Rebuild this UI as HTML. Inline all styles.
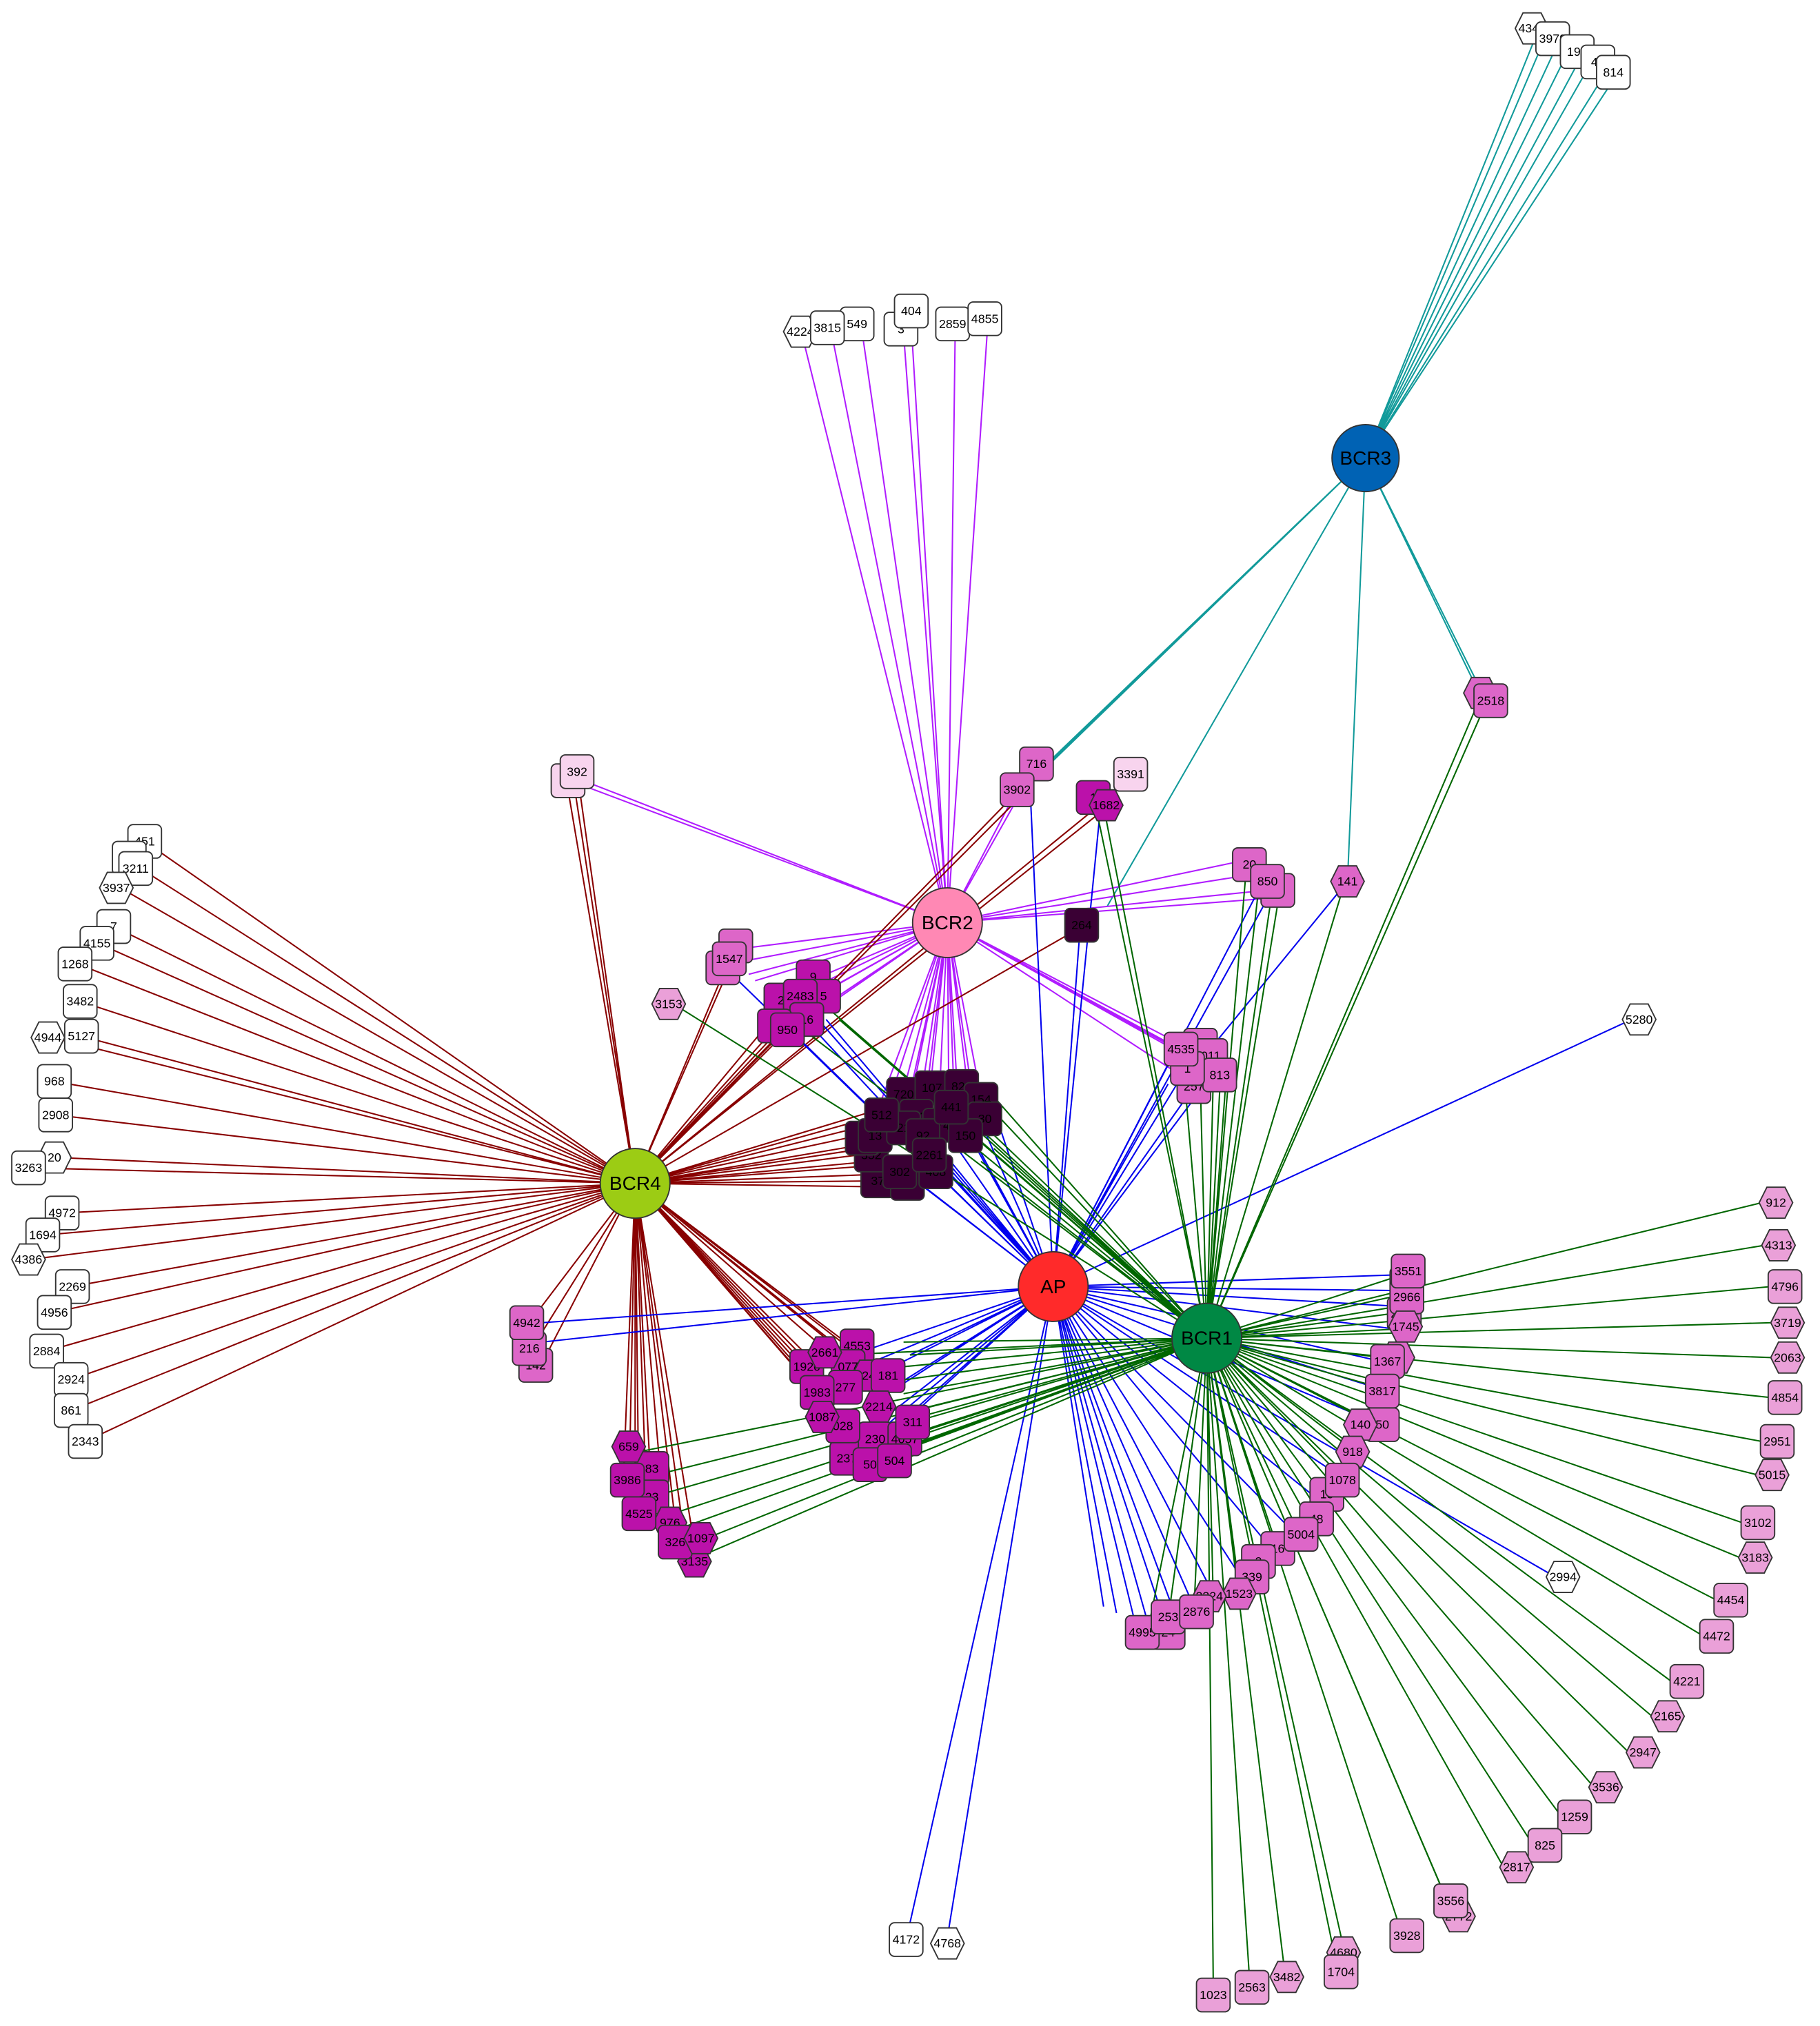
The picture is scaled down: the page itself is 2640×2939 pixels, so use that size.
<!DOCTYPE html>
<html><head><meta charset="utf-8"><style>
html,body{margin:0;padding:0;background:#fff}
svg{display:block}
text{font-family:"Liberation Sans",sans-serif;font-size:9.5px;text-anchor:middle;dominant-baseline:central;fill:#000}
.n use,.n polygon{stroke:#333;stroke-width:1}
.w use,.w polygon{fill:#fff}
.l use,.l polygon{fill:#eaa0d8}
.m use,.m polygon{fill:#dd66c8}
.g use,.g polygon{fill:#bb11aa}
.d use,.d polygon{fill:#3a0034}
.v use,.v polygon{fill:#f8d4ee}
.hub text{font-size:15px}
path{fill:none;stroke-width:1.1}
</style></head><body>
<svg width="2640" height="2939" viewBox="0 0 1410 1570" xmlns="http://www.w3.org/2000/svg">
<defs>
<rect id="s" x="-13" y="-13" width="26" height="26" rx="4"/>
</defs>
<!-- teal BCR3 -->
<path stroke="#119a9a" d="M1058 355L1190 28M1058 355L1196 32M1058 355L1205 38M1058 355L1214 42M1058 355L1224 46M1058 355L1232 50M1058 355L1243 58M1058 355L1250 62M1058 355L805 600M1058 355L800 604M1058 355L790 612M1058 355L858 702M1058 355L1044 683M1058 355L1146 537M1058 355L1150 540"/>
<!-- purple BCR2 -->
<path stroke="#b01cff" d="M734 715L622 262M734 715L645 262M734 715L668 258M734 715L700 258M734 715L706 252M734 715L740 258M734 715L765 255M734 715L452 605M734 715L455 610M734 715L958 668M734 715L968 678M734 715L980 690M734 715L985 696M734 715L575 735M734 715L575 745M734 715L580 755M734 715L585 760M734 715L620 770M734 715L628 760M734 715L640 768M734 715L600 790M734 715L612 797M734 715L640 780M734 715L905 808M734 715L920 812M734 715L928 822M734 715L943 832M734 715L925 840M734 715L680 860M734 715L690 850M734 715L700 845M734 715L705 855M734 715L715 840M734 715L720 850M734 715L728 845M734 715L735 842M734 715L742 850M734 715L750 845M734 715L755 860M734 715L760 850M734 715L700 870M734 715L715 870M734 715L740 870M734 715L788 612M734 715L800 598"/>
<!-- dark red BCR4 -->
<path stroke="#880000" d="M492 917L112 652M492 917L104 670M492 917L93 688M492 917L88 718M492 917L76 731M492 917L60 747M492 917L62 776M492 917L40 804M492 917L63 803M492 917L42 838M492 917L43 864M492 917L45 897M492 917L23 905M492 917L48 940M492 917L35 957M492 917L23 976M492 917L56 997M492 917L42 1017M492 917L36 1047M492 917L55 1069M492 917L55 1093M492 917L66 1117M492 917L445 610M492 917L440 612M492 917L449 612M492 917L785 617M492 917L790 618M492 917L848 627M492 917L852 630M492 917L835 720M492 917L660 870M492 917L665 880M492 917L670 890M492 917L675 900M492 917L680 910M492 917L690 915M492 917L700 920M492 917L665 895M492 917L680 860M492 917L700 865M492 917L720 900M492 917L710 880M492 917L410 1025M492 917L412 1045M492 917L418 1060M492 917L630 1055M492 917L635 1065M492 917L640 1075M492 917L645 1085M492 917L650 1095M492 917L655 1105M492 917L660 1110M492 917L665 1050M492 917L670 1060M492 917L655 1040M492 917L680 1070M492 917L690 1090M492 917L488 1120M492 917L492 1135M492 917L500 1140M492 917L505 1165M492 917L515 1180M492 917L525 1195M492 917L540 1210M492 917L483 1145M492 917L495 1175M492 917L530 1190M492 917L598 790M492 917L610 795M492 917L620 775M492 917L630 770M492 917L565 750M492 917L560 755"/>
<!-- blue AP -->
<path stroke="#0000ee" d="M816 997L700 870M816 997L720 880M816 997L735 880M816 997L750 875M816 997L760 870M816 997L770 860M816 997L740 860M816 997L690 900M816 997L710 915M816 997L605 770M816 997L612 798M816 997L625 780M816 997L640 790M816 997L572 760M816 997L420 1025M816 997L420 1040M816 997L1260 792M816 997L705 1490M816 997L735 1495M816 997L1080 988M816 997L1078 1000M816 997L1078 1012M816 997L1082 1030M816 997L1070 1055M816 997L1065 1075M816 997L1060 1100M816 997L1205 1222M816 997L880 1260M816 997L890 1260M816 997L900 1250M816 997L910 1250M816 997L925 1245M816 997L940 1235M816 997L960 1220M816 997L985 1200M816 997L1000 1185M816 997L1025 1165M816 997L1040 1145M816 997L865 1250M816 997L855 1245M816 997L660 1050M816 997L665 1060M816 997L670 1070M816 997L680 1085M816 997L690 1095M816 997L700 1100M816 997L705 1050M816 997L700 1070M816 997L680 1110M816 997L670 1130M816 997L910 815M816 997L918 830M816 997L930 835M816 997L945 825M816 997L905 840M816 997L975 690M816 997L980 700M816 997L836 730M816 997L852 632M816 997L798 610M1044 683L940 810"/>
<!-- green BCR1 -->
<path stroke="#006600" d="M935 1037L1365 932M935 1037L1367 965M935 1037L1372 997M935 1037L1373 1025M935 1037L1372 1052M935 1037L1372 1083M935 1037L1365 1117M935 1037L1362 1143M935 1037L1350 1180M935 1037L1348 1207M935 1037L1330 1240M935 1037L1320 1268M935 1037L1295 1303M935 1037L1280 1330M935 1037L1262 1358M935 1037L1235 1385M935 1037L1210 1408M935 1037L1188 1430M935 1037L1165 1447M935 1037L1120 1470M935 1037L1125 1482M935 1037L1085 1495M935 1037L1040 1505M935 1037L1035 1520M935 1037L995 1525M935 1037L968 1532M935 1037L940 1538M935 1037L1080 990M935 1037L1078 1005M935 1037L1078 1018M935 1037L1082 1030M935 1037L1072 1052M935 1037L1068 1075M935 1037L1060 1100M935 1037L1050 1125M935 1037L1040 1145M935 1037L1005 1185M935 1037L990 1200M935 1037L975 1215M935 1037L960 1230M935 1037L940 1240M935 1037L925 1248M935 1037L905 1255M935 1037L890 1260M935 1037L690 1060M935 1037L695 1070M935 1037L700 1080M935 1037L700 1095M935 1037L705 1100M935 1037L710 1110M935 1037L690 1120M935 1037L680 1130M935 1037L670 1135M935 1037L705 1050M935 1037L700 1040M935 1037L650 1050M935 1037L495 1125M935 1037L500 1145M935 1037L505 1160M935 1037L515 1175M935 1037L525 1185M935 1037L540 1195M935 1037L545 1205M935 1037L525 780M935 1037L720 860M935 1037L740 860M935 1037L760 870M935 1037L765 880M935 1037L770 890M935 1037L760 900M935 1037L770 850M935 1037L750 840M935 1037L640 780M935 1037L650 790M935 1037L625 800M935 1037L850 630M935 1037L856 630M935 1037L1145 545M935 1037L1150 548M935 1037L965 680M935 1037L975 690M935 1037L985 695M935 1037L990 700M935 1037L1040 690M935 1037L918 840M935 1037L930 840M935 1037L940 835M935 1037L945 845M935 1037L950 835"/>

<!-- top right white -->
<g class="n w" transform="translate(1187,22)"><polygon points="-13,0 -7,-12 7,-12 13,0 7,12 -7,12"/><text>4348</text></g>
<g class="n w" transform="translate(1203,30)"><use href="#s"/><text>3979</text></g>
<g class="n w" transform="translate(1222,40)"><use href="#s"/><text>196</text></g>
<g class="n w" transform="translate(1238,48)"><use href="#s"/><text>42</text></g>
<g class="n w" transform="translate(1250,56)"><use href="#s"/><text>814</text></g>
<!-- top white -->
<g class="n w" transform="translate(620,257)"><polygon points="-13,0 -7,-12 7,-12 13,0 7,12 -7,12"/><text>4224</text></g>
<g class="n w" transform="translate(664,251)"><use href="#s"/><text>549</text></g>
<g class="n w" transform="translate(641,254)"><use href="#s"/><text>3815</text></g>
<g class="n w" transform="translate(698,255)"><use href="#s"/><text>3</text></g>
<g class="n w" transform="translate(706,241)"><use href="#s"/><text>404</text></g>
<g class="n w" transform="translate(738,251)"><use href="#s"/><text>2859</text></g>
<g class="n w" transform="translate(763,247)"><use href="#s"/><text>4855</text></g>
<!-- left white -->
<g class="n w" transform="translate(112,652)"><use href="#s"/><text>451</text></g>
<g class="n w" transform="translate(100,665)"><use href="#s"/><text></text></g>
<g class="n w" transform="translate(105,673)"><use href="#s"/><text>3211</text></g>
<g class="n w" transform="translate(90,688)"><polygon points="-13,0 -7,-12 7,-12 13,0 7,12 -7,12"/><text>3937</text></g>
<g class="n w" transform="translate(88,718)"><use href="#s"/><text>7</text></g>
<g class="n w" transform="translate(75,731)"><use href="#s"/><text>4155</text></g>
<g class="n w" transform="translate(58,747)"><use href="#s"/><text>1268</text></g>
<g class="n w" transform="translate(62,776)"><use href="#s"/><text>3482</text></g>
<g class="n w" transform="translate(37,804)"><polygon points="-13,0 -7,-12 7,-12 13,0 7,12 -7,12"/><text>4944</text></g>
<g class="n w" transform="translate(63,803)"><use href="#s"/><text>5127</text></g>
<g class="n w" transform="translate(42,838)"><use href="#s"/><text>968</text></g>
<g class="n w" transform="translate(43,864)"><use href="#s"/><text>2908</text></g>
<g class="n w" transform="translate(42,897)"><polygon points="-13,0 -7,-12 7,-12 13,0 7,12 -7,12"/><text>20</text></g>
<g class="n w" transform="translate(22,905)"><use href="#s"/><text>3263</text></g>
<g class="n w" transform="translate(48,940)"><use href="#s"/><text>4972</text></g>
<g class="n w" transform="translate(33,957)"><use href="#s"/><text>1694</text></g>
<g class="n w" transform="translate(22,976)"><polygon points="-13,0 -7,-12 7,-12 13,0 7,12 -7,12"/><text>4386</text></g>
<g class="n w" transform="translate(56,997)"><use href="#s"/><text>2269</text></g>
<g class="n w" transform="translate(42,1017)"><use href="#s"/><text>4956</text></g>
<g class="n w" transform="translate(36,1047)"><use href="#s"/><text>2884</text></g>
<g class="n w" transform="translate(55,1069)"><use href="#s"/><text>2924</text></g>
<g class="n w" transform="translate(55,1093)"><use href="#s"/><text>861</text></g>
<g class="n w" transform="translate(66,1117)"><use href="#s"/><text>2343</text></g>
<!-- misc white -->
<g class="n w" transform="translate(1270,790)"><polygon points="-13,0 -7,-12 7,-12 13,0 7,12 -7,12"/><text>5280</text></g>
<g class="n w" transform="translate(1211,1222)"><polygon points="-13,0 -7,-12 7,-12 13,0 7,12 -7,12"/><text>2994</text></g>
<g class="n w" transform="translate(702,1503)"><use href="#s"/><text>4172</text></g>
<g class="n w" transform="translate(734,1506)"><polygon points="-13,0 -7,-12 7,-12 13,0 7,12 -7,12"/><text>4768</text></g>
<!-- upper middle -->
<g class="n v" transform="translate(440,605)"><use href="#s"/><text>2</text></g>
<g class="n v" transform="translate(447,598)"><use href="#s"/><text>392</text></g>
<g class="n v" transform="translate(876,600)"><use href="#s"/><text>3391</text></g>
<g class="n m" transform="translate(803,592)"><use href="#s"/><text>716</text></g>
<g class="n m" transform="translate(788,612)"><use href="#s"/><text>3902</text></g>
<g class="n g" transform="translate(847,618)"><use href="#s"/><text>1</text></g>
<g class="n g" transform="translate(857,624)"><polygon points="-13,0 -7,-12 7,-12 13,0 7,12 -7,12"/><text>1682</text></g>
<g class="n d" transform="translate(838,717)"><use href="#s"/><text>264</text></g>
<g class="n m" transform="translate(1044,683)"><polygon points="-13,0 -7,-12 7,-12 13,0 7,12 -7,12"/><text>141</text></g>
<g class="n m" transform="translate(1147,537)"><polygon points="-13,0 -7,-12 7,-12 13,0 7,12 -7,12"/><text></text></g>
<g class="n m" transform="translate(1155,543)"><use href="#s"/><text>2518</text></g>
<g class="n l" transform="translate(518,778)"><polygon points="-13,0 -7,-12 7,-12 13,0 7,12 -7,12"/><text>3153</text></g>
<!-- 850 cluster -->
<g class="n m" transform="translate(968,670)"><use href="#s"/><text>20</text></g>
<g class="n m" transform="translate(990,690)"><use href="#s"/><text>3</text></g>
<g class="n m" transform="translate(982,683)"><use href="#s"/><text>850</text></g>
<!-- 1547 cluster -->
<g class="n m" transform="translate(570,733)"><use href="#s"/><text></text></g>
<g class="n m" transform="translate(560,750)"><use href="#s"/><text></text></g>
<g class="n m" transform="translate(565,743)"><use href="#s"/><text>1547</text></g>
<!-- 2483 cluster -->
<g class="n g" transform="translate(630,757)"><use href="#s"/><text>9</text></g>
<g class="n g" transform="translate(638,772)"><use href="#s"/><text>5</text></g>
<g class="n g" transform="translate(605,775)"><use href="#s"/><text>2</text></g>
<g class="n g" transform="translate(620,772)"><use href="#s"/><text>2483</text></g>
<g class="n g" transform="translate(625,790)"><use href="#s"/><text>16</text></g>
<g class="n g" transform="translate(600,795)"><use href="#s"/><text>9</text></g>
<g class="n g" transform="translate(610,798)"><use href="#s"/><text>950</text></g>
<!-- 4535 cluster -->
<g class="n m" transform="translate(930,810)"><use href="#s"/><text></text></g>
<g class="n m" transform="translate(938,818)"><use href="#s"/><text>011</text></g>
<g class="n m" transform="translate(925,842)"><use href="#s"/><text>257</text></g>
<g class="n m" transform="translate(945,833)"><use href="#s"/><text>813</text></g>
<g class="n m" transform="translate(920,828)"><use href="#s"/><text>1</text></g>
<g class="n m" transform="translate(915,813)"><use href="#s"/><text>4535</text></g>
<!-- dark cluster -->
<g class="n d" transform="translate(700,848)"><use href="#s"/><text>720</text></g>
<g class="n d" transform="translate(722,843)"><use href="#s"/><text>107</text></g>
<g class="n d" transform="translate(745,842)"><use href="#s"/><text>823</text></g>
<g class="n d" transform="translate(760,852)"><use href="#s"/><text>154</text></g>
<g class="n d" transform="translate(763,867)"><use href="#s"/><text>30</text></g>
<g class="n d" transform="translate(710,865)"><use href="#s"/><text>153</text></g>
<g class="n d" transform="translate(728,872)"><use href="#s"/><text>174</text></g>
<g class="n d" transform="translate(680,915)"><use href="#s"/><text>37</text></g>
<g class="n d" transform="translate(703,917)"><use href="#s"/><text>31</text></g>
<g class="n d" transform="translate(725,908)"><use href="#s"/><text>408</text></g>
<g class="n d" transform="translate(675,895)"><use href="#s"/><text>352</text></g>
<g class="n d" transform="translate(668,882)"><use href="#s"/><text>2</text></g>
<g class="n d" transform="translate(678,880)"><use href="#s"/><text>13</text></g>
<g class="n d" transform="translate(700,874)"><use href="#s"/><text>21</text></g>
<g class="n d" transform="translate(715,880)"><use href="#s"/><text>92</text></g>
<g class="n d" transform="translate(683,864)"><use href="#s"/><text>512</text></g>
<g class="n d" transform="translate(697,908)"><use href="#s"/><text>302</text></g>
<g class="n d" transform="translate(720,895)"><use href="#s"/><text>2261</text></g>
<g class="n d" transform="translate(748,880)"><use href="#s"/><text>150</text></g>
<g class="n d" transform="translate(737,858)"><use href="#s"/><text>441</text></g>
<!-- left medium -->
<g class="n m" transform="translate(415,1058)"><use href="#s"/><text>142</text></g>
<g class="n m" transform="translate(410,1045)"><use href="#s"/><text>216</text></g>
<g class="n m" transform="translate(408,1025)"><use href="#s"/><text>4942</text></g>
<!-- magenta cluster -->
<g class="n g" transform="translate(664,1043)"><use href="#s"/><text>4553</text></g>
<g class="n g" transform="translate(625,1059)"><use href="#s"/><text>1920</text></g>
<g class="n g" transform="translate(657,1059)"><use href="#s"/><text>077</text></g>
<g class="n g" transform="translate(639,1048)"><polygon points="-13,0 -7,-12 7,-12 13,0 7,12 -7,12"/><text>2661</text></g>
<g class="n g" transform="translate(673,1066)"><polygon points="-13,0 -7,-12 7,-12 13,0 7,12 -7,12"/><text>24</text></g>
<g class="n g" transform="translate(655,1075)"><use href="#s"/><text>277</text></g>
<g class="n g" transform="translate(688,1066)"><use href="#s"/><text>181</text></g>
<g class="n g" transform="translate(633,1079)"><use href="#s"/><text>1983</text></g>
<g class="n g" transform="translate(681,1090)"><polygon points="-13,0 -7,-12 7,-12 13,0 7,12 -7,12"/><text>2214</text></g>
<g class="n g" transform="translate(656,1130)"><use href="#s"/><text>237</text></g>
<g class="n g" transform="translate(678,1115)"><use href="#s"/><text>230</text></g>
<g class="n g" transform="translate(701,1115)"><use href="#s"/><text>4057</text></g>
<g class="n g" transform="translate(653,1105)"><use href="#s"/><text>028</text></g>
<g class="n g" transform="translate(637,1098)"><polygon points="-13,0 -7,-12 7,-12 13,0 7,12 -7,12"/><text>1087</text></g>
<g class="n g" transform="translate(674,1135)"><use href="#s"/><text>50</text></g>
<g class="n g" transform="translate(693,1132)"><use href="#s"/><text>504</text></g>
<g class="n g" transform="translate(707,1102)"><use href="#s"/><text>311</text></g>
<!-- 659 cluster -->
<g class="n g" transform="translate(505,1138)"><use href="#s"/><text>83</text></g>
<g class="n g" transform="translate(487,1121)"><polygon points="-13,0 -7,-12 7,-12 13,0 7,12 -7,12"/><text>659</text></g>
<g class="n g" transform="translate(505,1160)"><use href="#s"/><text>23</text></g>
<g class="n g" transform="translate(486,1147)"><use href="#s"/><text>3986</text></g>
<g class="n g" transform="translate(519,1180)"><polygon points="-13,0 -7,-12 7,-12 13,0 7,12 -7,12"/><text>976</text></g>
<g class="n g" transform="translate(495,1173)"><use href="#s"/><text>4525</text></g>
<g class="n g" transform="translate(538,1210)"><polygon points="-13,0 -7,-12 7,-12 13,0 7,12 -7,12"/><text>3135</text></g>
<g class="n g" transform="translate(523,1195)"><use href="#s"/><text>326</text></g>
<g class="n g" transform="translate(543,1192)"><polygon points="-13,0 -7,-12 7,-12 13,0 7,12 -7,12"/><text>1097</text></g>
<!-- right cluster -->
<g class="n m" transform="translate(1090,995)"><use href="#s"/><text>2</text></g>
<g class="n m" transform="translate(1088,1018)"><use href="#s"/><text>2818</text></g>
<g class="n m" transform="translate(1090,1005)"><use href="#s"/><text>2966</text></g>
<g class="n m" transform="translate(1091,985)"><use href="#s"/><text>3551</text></g>
<g class="n m" transform="translate(1089,1028)"><polygon points="-13,0 -7,-12 7,-12 13,0 7,12 -7,12"/><text>1745</text></g>
<g class="n m" transform="translate(1083,1052)"><polygon points="-13,0 -7,-12 7,-12 13,0 7,12 -7,12"/><text>9</text></g>
<g class="n m" transform="translate(1075,1055)"><use href="#s"/><text>1367</text></g>
<g class="n m" transform="translate(1071,1104)"><use href="#s"/><text>50</text></g>
<g class="n m" transform="translate(1071,1078)"><use href="#s"/><text>3817</text></g>
<g class="n m" transform="translate(1054,1104)"><polygon points="-13,0 -7,-12 7,-12 13,0 7,12 -7,12"/><text>140</text></g>
<g class="n m" transform="translate(1048,1125)"><polygon points="-13,0 -7,-12 7,-12 13,0 7,12 -7,12"/><text>918</text></g>
<g class="n m" transform="translate(1028,1158)"><use href="#s"/><text>15</text></g>
<g class="n m" transform="translate(1040,1147)"><use href="#s"/><text>1078</text></g>
<g class="n m" transform="translate(1020,1177)"><use href="#s"/><text>48</text></g>
<g class="n m" transform="translate(990,1200)"><use href="#s"/><text>16</text></g>
<g class="n m" transform="translate(1008,1189)"><use href="#s"/><text>5004</text></g>
<g class="n m" transform="translate(975,1210)"><use href="#s"/><text>2</text></g>
<g class="n m" transform="translate(970,1222)"><use href="#s"/><text>339</text></g>
<g class="n m" transform="translate(960,1235)"><polygon points="-13,0 -7,-12 7,-12 13,0 7,12 -7,12"/><text>1523</text></g>
<g class="n m" transform="translate(937,1237)"><polygon points="-13,0 -7,-12 7,-12 13,0 7,12 -7,12"/><text>3324</text></g>
<g class="n m" transform="translate(905,1265)"><use href="#s"/><text>24</text></g>
<g class="n m" transform="translate(885,1265)"><use href="#s"/><text>4995</text></g>
<g class="n m" transform="translate(905,1253)"><use href="#s"/><text>253</text></g>
<g class="n m" transform="translate(927,1249)"><use href="#s"/><text>2876</text></g>
<!-- right light pink -->
<g class="n l" transform="translate(1376,932)"><polygon points="-13,0 -7,-12 7,-12 13,0 7,12 -7,12"/><text>912</text></g>
<g class="n l" transform="translate(1378,965)"><polygon points="-13,0 -7,-12 7,-12 13,0 7,12 -7,12"/><text>4313</text></g>
<g class="n l" transform="translate(1383,997)"><use href="#s"/><text>4796</text></g>
<g class="n l" transform="translate(1385,1025)"><polygon points="-13,0 -7,-12 7,-12 13,0 7,12 -7,12"/><text>3719</text></g>
<g class="n l" transform="translate(1385,1052)"><polygon points="-13,0 -7,-12 7,-12 13,0 7,12 -7,12"/><text>2063</text></g>
<g class="n l" transform="translate(1383,1083)"><use href="#s"/><text>4854</text></g>
<g class="n l" transform="translate(1377,1117)"><use href="#s"/><text>2951</text></g>
<g class="n l" transform="translate(1373,1143)"><polygon points="-13,0 -7,-12 7,-12 13,0 7,12 -7,12"/><text>5015</text></g>
<g class="n l" transform="translate(1362,1180)"><use href="#s"/><text>3102</text></g>
<g class="n l" transform="translate(1360,1207)"><polygon points="-13,0 -7,-12 7,-12 13,0 7,12 -7,12"/><text>3183</text></g>
<g class="n l" transform="translate(1341,1240)"><use href="#s"/><text>4454</text></g>
<g class="n l" transform="translate(1330,1268)"><use href="#s"/><text>4472</text></g>
<g class="n l" transform="translate(1307,1303)"><use href="#s"/><text>4221</text></g>
<g class="n l" transform="translate(1292,1330)"><polygon points="-13,0 -7,-12 7,-12 13,0 7,12 -7,12"/><text>2165</text></g>
<g class="n l" transform="translate(1273,1358)"><polygon points="-13,0 -7,-12 7,-12 13,0 7,12 -7,12"/><text>2947</text></g>
<g class="n l" transform="translate(1244,1385)"><polygon points="-13,0 -7,-12 7,-12 13,0 7,12 -7,12"/><text>3536</text></g>
<g class="n l" transform="translate(1220,1408)"><use href="#s"/><text>1259</text></g>
<g class="n l" transform="translate(1197,1430)"><use href="#s"/><text>825</text></g>
<g class="n l" transform="translate(1175,1447)"><polygon points="-13,0 -7,-12 7,-12 13,0 7,12 -7,12"/><text>2817</text></g>
<g class="n l" transform="translate(1130,1485)"><polygon points="-13,0 -7,-12 7,-12 13,0 7,12 -7,12"/><text>2772</text></g>
<g class="n l" transform="translate(1124,1473)"><use href="#s"/><text>3556</text></g>
<g class="n l" transform="translate(1090,1500)"><use href="#s"/><text>3928</text></g>
<g class="n l" transform="translate(1041,1513)"><polygon points="-13,0 -7,-12 7,-12 13,0 7,12 -7,12"/><text>4680</text></g>
<g class="n l" transform="translate(1039,1528)"><use href="#s"/><text>1704</text></g>
<g class="n l" transform="translate(997,1532)"><polygon points="-13,0 -7,-12 7,-12 13,0 7,12 -7,12"/><text>3482</text></g>
<g class="n l" transform="translate(970,1540)"><use href="#s"/><text>2563</text></g>
<g class="n l" transform="translate(940,1546)"><use href="#s"/><text>1023</text></g>
<!-- hubs -->
<g class="hub" transform="translate(1058,355)"><circle r="26" fill="#0062b4" stroke="#333"/><text>BCR3</text></g>
<g class="hub" transform="translate(734,715)"><circle r="27" fill="#ff88b4" stroke="#333"/><text>BCR2</text></g>
<g class="hub" transform="translate(492,917)"><circle r="27" fill="#9ccc14" stroke="#333"/><text>BCR4</text></g>
<g class="hub" transform="translate(816,997)"><circle r="27" fill="#ff2a2a" stroke="#333"/><text>AP</text></g>
<g class="hub" transform="translate(935,1037)"><circle r="27" fill="#008844" stroke="#333"/><text>BCR1</text></g>
</svg>
</body></html>
